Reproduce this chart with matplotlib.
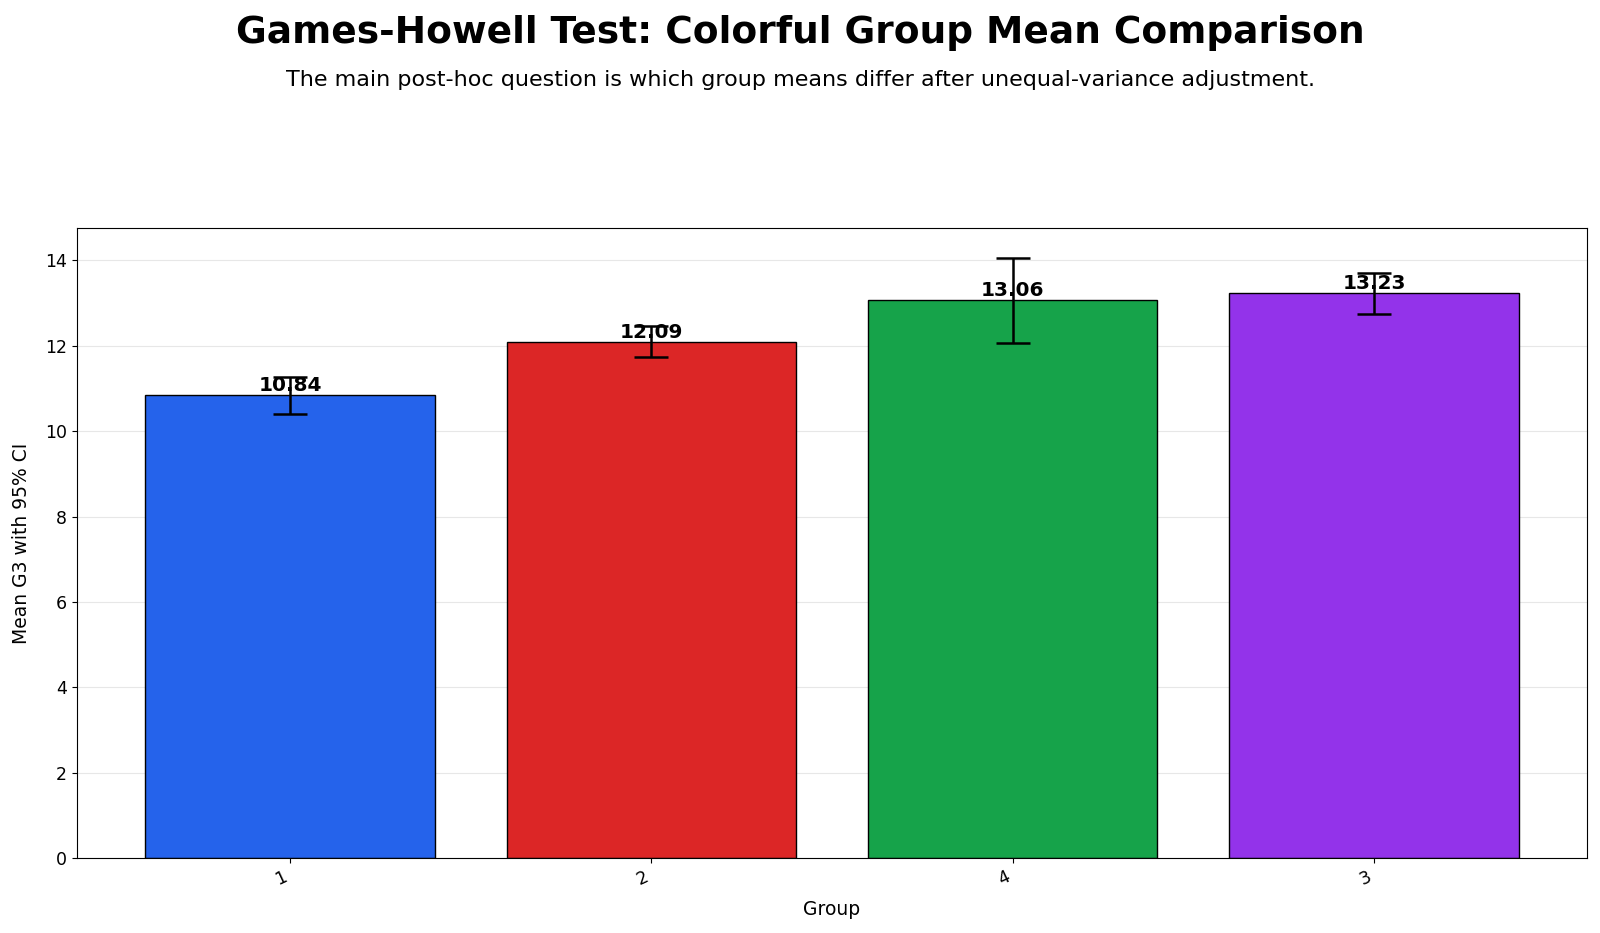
import numpy as np
import matplotlib.pyplot as plt

groups = ["1", "2", "4", "3"]
means = [10.84, 12.09, 13.06, 13.23]
ci_half = [0.43, 0.36, 1.00, 0.48]
colors = ["#2563eb", "#dc2626", "#16a34a", "#9333ea"]

fig, ax = plt.subplots(figsize=(16, 9.33), dpi=100)
x = np.arange(len(groups))
bars = ax.bar(x, means, width=0.8, color=colors, edgecolor="black", linewidth=1,
              yerr=ci_half, capsize=12, error_kw={"elinewidth": 1.8, "capthick": 1.8})

# value labels on top of each bar
for xi, m in zip(x, means):
    ax.text(xi, m, f"{m:.2f}", ha="center", va="bottom", fontsize=14.5, fontweight="bold")

ax.set_xticks(x)
ax.set_xticklabels(groups, rotation=25, ha="right", fontsize=12.5)
ax.tick_params(axis="y", labelsize=12.5)
ax.set_xlabel("Group", fontsize=13.5, labelpad=8)
ax.set_ylabel("Mean G3 with 95% CI", fontsize=13.5, labelpad=10)
ax.grid(axis="y", alpha=0.3)
ax.set_axisbelow(True)

fig.suptitle("Games-Howell Test: Colorful Group Mean Comparison", fontsize=27,
             fontweight="bold", y=0.984)
fig.text(0.5, 0.908, "The main post-hoc question is which group means differ after unequal-variance adjustment.",
         ha="center", fontsize=16)

fig.subplots_adjust(left=0.048, right=0.992, top=0.756, bottom=0.08)
fig.savefig("out.png")
